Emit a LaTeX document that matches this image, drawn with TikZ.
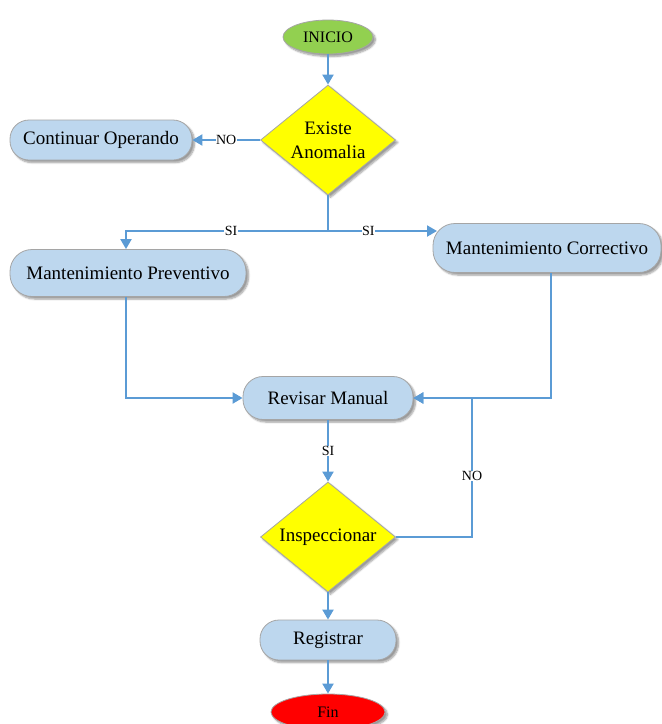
\documentclass[tikz,border=0pt]{standalone}
\usepackage{fontspec}
\setmainfont{Liberation Serif}
\usetikzlibrary{shapes.geometric,arrows.meta,shadows.blur}
\definecolor{boxfill}{HTML}{BDD7EE}
\definecolor{edgegray}{HTML}{A5A5A5}
\definecolor{flow}{HTML}{5B9BD5}
\definecolor{startgreen}{HTML}{92D050}
\definecolor{endred}{HTML}{FF0000}
\definecolor{decyellow}{HTML}{FFFF00}
\tikzset{
  shade/.style={blur shadow={shadow xshift=2.5pt,shadow yshift=-2.5pt,shadow blur steps=6,shadow opacity=40}},
  procbox/.style={rectangle,rounded corners=19pt,fill=boxfill,draw=edgegray,line width=0.8pt,
    font=\fontsize{19}{22}\selectfont,inner sep=0pt,shade},
  decision/.style={diamond,fill=decyellow,draw=edgegray,line width=0.8pt,inner sep=0pt,
    font=\fontsize{19}{24}\selectfont,align=center,minimum width=135pt,minimum height=110pt,aspect=1.23,shade},
  terminal/.style={ellipse,draw=edgegray,line width=0.8pt,inner sep=0pt,font=\fontsize{16}{18}\selectfont,shade},
  flowline/.style={draw=flow,line width=2pt},
  arrowline/.style={flowline,-{Triangle[length=10pt,width=11pt]}},
  lab/.style={fill=white,inner sep=0.5pt,font=\fontsize{14}{16}\selectfont}
}
\begin{document}
\begin{tikzpicture}[x=1pt,y=-1pt]
\useasboundingbox (0,0) rectangle (662,724);

% process nodes
\node[terminal,fill=startgreen,minimum width=90pt,minimum height=34pt] (inicio) at (328,37) {INICIO};
\node[decision] (existe) at (328,140) {Existe\\Anomalia};
\node[procbox,minimum width=182pt,minimum height=40pt] (continuar) at (101,140) {Continuar Operando};
\node[procbox,minimum width=236pt,minimum height=47pt,rounded corners=22pt] (prev) at (128,273) {Mantenimiento Preventivo};
\node[procbox,minimum width=228pt,minimum height=49pt,rounded corners=22pt] (corr) at (547,248) {Mantenimiento Correctivo};
\node[procbox,minimum width=170pt,minimum height=43pt,rounded corners=20pt] (revisar) at (328,398) {Revisar Manual};
\node[decision] (insp) at (328,537) {Inspeccionar};
\node[procbox,minimum width=136pt,minimum height=40pt] (registrar) at (328,640) {Registrar};
\node[terminal,fill=endred,minimum width=114pt,minimum height=36pt] (fin) at (328,712) {Fin};

% junction points
\coordinate (split) at (328,231);
\coordinate (corrin) at (437,231);
\coordinate (loop) at (472,398);

% connectors
\draw[arrowline] (inicio.south) -- (existe.north);
\draw[arrowline] (existe.west) -- node[lab]{NO} (continuar.east);
\draw[flowline] (existe.south) -- (split);
\draw[arrowline] (split) -| node[lab,pos=0.24]{SI} ([xshift=-2pt]prev.north);
\draw[arrowline] (split) -- node[lab,pos=0.37]{SI} (corrin);
\draw[arrowline] ([xshift=-2pt]prev.south) |- (revisar.west);
\draw[arrowline] ([xshift=4pt]corr.south) |- (revisar.east);
\draw[arrowline] (revisar.south) -- node[lab]{SI} (insp.north);
\draw[flowline] (insp.east) -| node[lab,pos=0.72]{NO} (loop);
\draw[arrowline] (loop) -- (revisar.east);
\draw[arrowline] (insp.south) -- (registrar.north);
\draw[arrowline] (registrar.south) -- (fin.north);
\end{tikzpicture}
\end{document}
